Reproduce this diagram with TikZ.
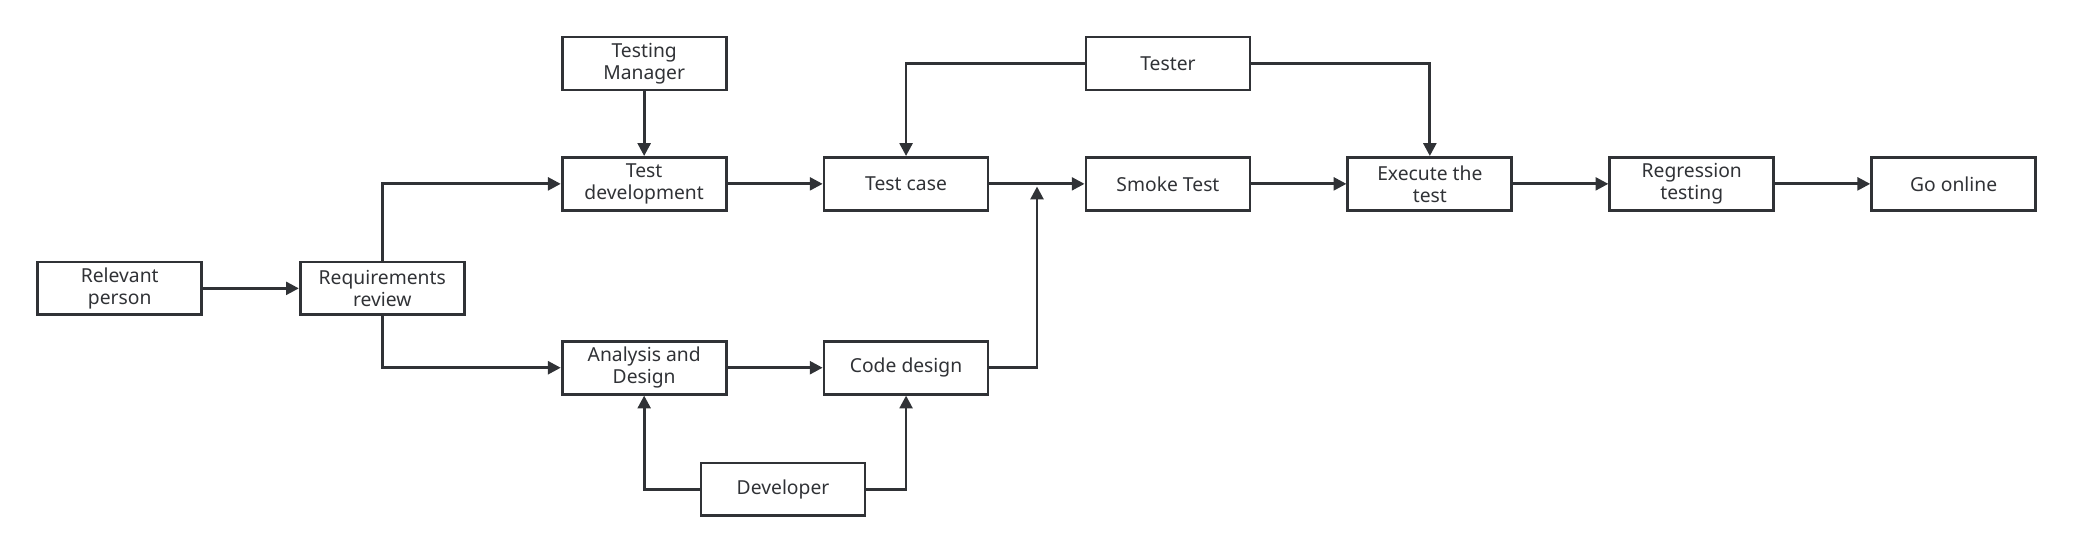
\documentclass[tikz,border=0pt]{standalone}
\usepackage{fontspec}
\setmainfont{Noto Sans}
\usetikzlibrary{arrows.meta}
\definecolor{ln}{HTML}{303236}
\begin{document}
\begin{tikzpicture}[x=0.02cm,y=-0.02cm,
 box/.style={draw=ln,line width=1.2pt,minimum width=2.48cm,minimum height=0.8cm,inner sep=0pt,align=center,font=\fontsize{8.3pt}{9.4pt}\selectfont,text=ln},
 ar/.style={draw=ln,line width=1.2pt,-{Triangle[length=5.5pt,width=5.5pt]}}]
\useasboundingbox (0,0) rectangle (1568,417);
\node[box] (rp) at (90.5,218) {Relevant\\person};
\node[box] (rr) at (289,218) {Requirements\\review};
\node[box] (tm) at (487,48) {Testing\\Manager};
\node[box] (td) at (487,139) {Test\\development};
\node[box] (tc) at (685,139) {Test case};
\node[box] (st) at (883,139) {Smoke Test};
\node[box] (ex) at (1081,139) {Execute the\\test};
\node[box] (rg) at (1279,139) {Regression\\testing};
\node[box] (go) at (1477,139) {Go online};
\node[box] (ts) at (883,48) {Tester};
\node[box] (ad) at (487,278) {Analysis and\\Design};
\node[box] (cd) at (685,278) {Code design};
\node[box] (dv) at (592,370) {Developer};
\coordinate (j) at (784,141);
\draw[ar] (rp) -- (rr);
\draw[ar] (rr.north) |- (td.west);
\draw[ar] (rr.south) |- (ad.west);
\draw[ar] (tm) -- (td);
\draw[ar] (td) -- (tc);
\draw[ar] (tc) -- (st);
\draw[ar] (ad) -- (cd);
\draw[ar] (cd.east) -| (j);
\draw[ar] (ts.west) -| (tc.north);
\draw[ar] (ts.east) -| (ex.north);
\draw[ar] (st) -- (ex);
\draw[ar] (ex) -- (rg);
\draw[ar] (rg) -- (go);
\draw[ar] (dv.west) -| (ad.south);
\draw[ar] (dv.east) -| (cd.south);
\end{tikzpicture}
\end{document}
